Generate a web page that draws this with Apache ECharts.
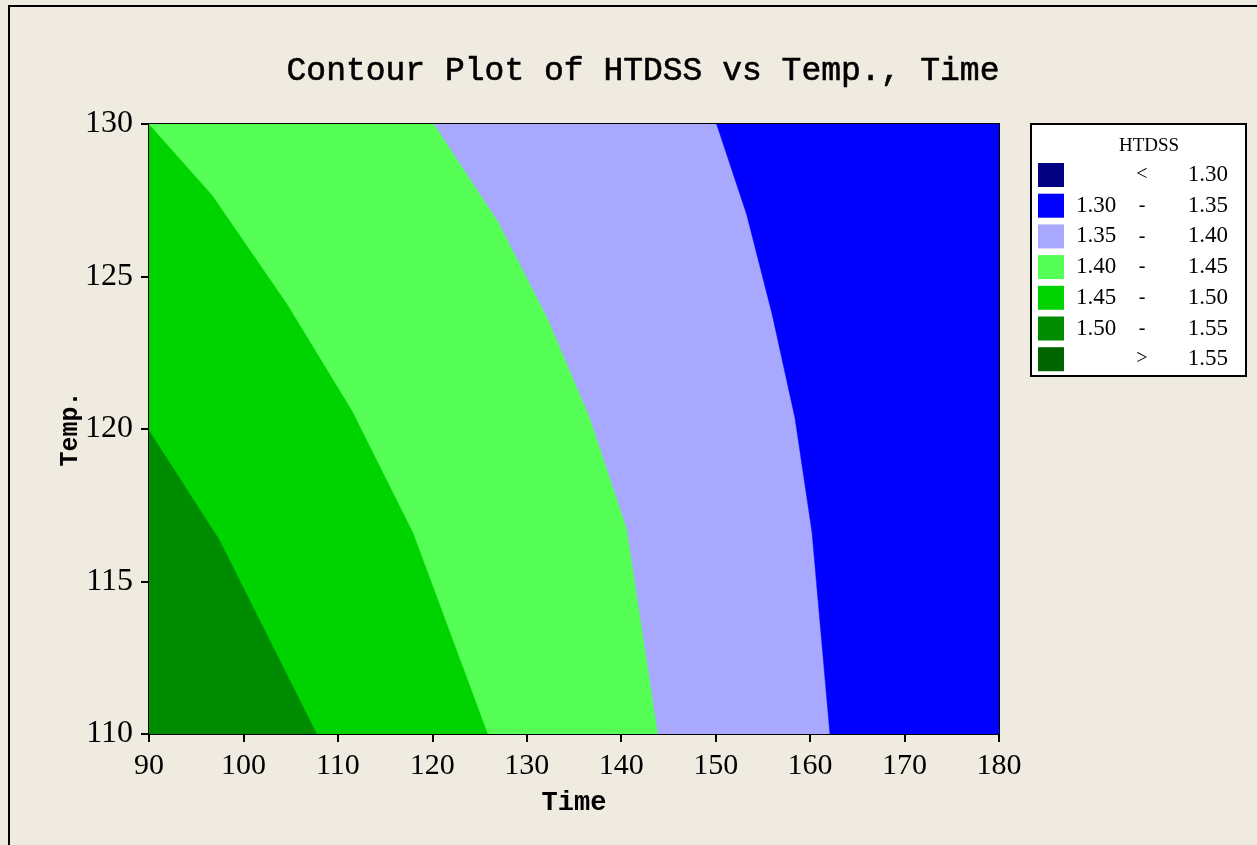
<!DOCTYPE html>
<html>
<head>
<meta charset="utf-8">
<script src="https://cdn.jsdelivr.net/npm/echarts@6/dist/echarts.min.js"></script>
<style>
html,body{margin:0;padding:0;background:#EFEBE1;}
#main{width:1257px;height:845px;}
</style>
</head>
<body>
<div id="main"></div>
<script>
// Contour boundaries: [Time, Temp] points from top to bottom
var boundary150_155 = [[90, 119.97], [97.5, 116.36], [107.8, 110]];
var boundary145_150 = [[90, 130], [96.7, 127.67], [104.7, 124.07], [111.6, 120.56], [118.0, 116.59], [125.9, 110]];
var boundary140_145 = [[120.2, 130], [127.0, 126.79], [132.2, 123.64], [136.7, 120.36], [140.6, 116.75], [143.9, 110]];
var boundary135_140 = [[150.1, 130], [153.3, 127.02], [156.0, 123.74], [158.4, 120.36], [160.2, 116.62], [162.1, 110]];

var regionColors = ['#008C00', '#00D400', '#55FF55', '#A8A8FF', '#0000FF'];
var regionBoundaries = [null, boundary150_155, boundary145_150, boundary140_145, boundary135_140];

var xTicks = [90, 100, 110, 120, 130, 140, 150, 160, 170, 180];
var yTicks = [110, 115, 120, 125, 130];

var legendTitle = 'HTDSS';
var legendColors = ['#000080', '#0000FF', '#A8A8FF', '#55FF55', '#00D400', '#008C00', '#006400'];
var legendLow = ['', '1.30', '1.35', '1.40', '1.45', '1.50', ''];
var legendSep = ['<', '-', '-', '-', '-', '-', '>'];
var legendHigh = ['1.30', '1.35', '1.40', '1.45', '1.50', '1.55', '1.55'];

var xMin = xTicks[0], xMax = xTicks[xTicks.length - 1];
var yMin = yTicks[0], yMax = yTicks[yTicks.length - 1];

var chart = echarts.init(document.getElementById('main'));

function regionPolygon(idx) {
  var b = regionBoundaries[idx];
  if (!b) return [[xMin, yMin], [xMin, yMax], [xMax, yMax], [xMax, yMin]];
  var pts = [[xMax, yMax], [b[0][0], yMax]];
  for (var i = 0; i < b.length; i++) pts.push(b[i]);
  pts.push([b[b.length - 1][0], yMin]);
  pts.push([xMax, yMin]);
  return pts;
}

var seriesData = regionColors.map(function (c, i) { return [i]; });

var graphics = [];
// outer frame
graphics.push({type: 'rect', shape: {x: 9, y: 6, width: 1300, height: 900}, style: {fill: null, stroke: '#000', lineWidth: 2}, z: 10});
// legend box
var lx = 1031, ly = 124, lw = 215, lh = 252;
graphics.push({type: 'rect', shape: {x: lx, y: ly, width: lw, height: lh}, style: {fill: '#fff', stroke: '#000', lineWidth: 2}, z: 10});
graphics.push({type: 'text', x: 1149, y: 146, style: {text: legendTitle, font: '19px "Liberation Serif"', fill: '#000', align: 'center', verticalAlign: 'middle'}, z: 11});
for (var i = 0; i < legendColors.length; i++) {
  var cy = 175 + i * 30.7;
  graphics.push({type: 'rect', shape: {x: 1038, y: cy - 12, width: 26, height: 24}, style: {fill: legendColors[i]}, z: 11});
  if (legendLow[i]) graphics.push({type: 'text', x: 1076, y: cy, style: {text: legendLow[i], font: '23px "Liberation Serif"', fill: '#000', align: 'left', verticalAlign: 'middle'}, z: 11});
  graphics.push({type: 'text', x: 1142, y: cy, style: {text: legendSep[i], font: '20px "Liberation Serif"', fill: '#000', align: 'center', verticalAlign: 'middle'}, z: 11});
  graphics.push({type: 'text', x: 1228, y: cy, style: {text: legendHigh[i], font: '23px "Liberation Serif"', fill: '#000', align: 'right', verticalAlign: 'middle'}, z: 11});
}

var option = {
  backgroundColor: '#EFEBE1',
  animation: false,
  title: {
    text: 'Contour Plot of HTDSS vs Temp., Time',
    left: 638, top: 50, textAlign: 'center',
    textStyle: {fontFamily: '"Liberation Mono"', fontSize: 33, fontWeight: 'normal', color: '#000', textBorderColor: '#000', textBorderWidth: 0.6}
  },
  grid: {left: 149, right: 258, top: 124, bottom: 111, show: true, borderColor: '#000', borderWidth: 2, backgroundColor: 'transparent'},
  xAxis: {
    type: 'value', min: xMin, max: xMax, interval: 10,
    name: 'Time', nameLocation: 'middle', nameGap: 56,
    nameTextStyle: {fontFamily: '"Liberation Mono"', fontSize: 27, fontWeight: 'bold', color: '#000'},
    axisLine: {show: true, lineStyle: {color: '#000', width: 2}},
    axisTick: {show: true, length: 8, lineStyle: {color: '#000', width: 2}},
    axisLabel: {fontFamily: '"Liberation Serif"', fontSize: 30, color: '#000', margin: 17},
    splitLine: {show: false}
  },
  yAxis: {
    type: 'value', min: yMin, max: yMax, interval: 5,
    name: 'Temp.', nameLocation: 'middle', nameGap: 66, nameRotate: 90,
    nameMoveOverlap: false,
    nameTextStyle: {fontFamily: '"Liberation Mono"', fontSize: 25, fontWeight: 'bold', color: '#000'},
    axisLine: {show: true, lineStyle: {color: '#000', width: 2}},
    axisTick: {show: true, length: 8, lineStyle: {color: '#000', width: 2}},
    axisLabel: {fontFamily: '"Liberation Serif"', fontSize: 32, color: '#000', margin: 16},
    splitLine: {show: false}
  },
  series: [{
    type: 'custom',
    clip: true,
    data: seriesData,
    renderItem: function (params, api) {
      var idx = api.value(0);
      var pts = regionPolygon(idx).map(function (p) { return api.coord(p); });
      return {type: 'polygon', shape: {points: pts}, style: {fill: regionColors[idx], stroke: regionColors[idx], lineWidth: 0.5}};
    },
    z: 1
  }],
  graphic: graphics
};
chart.setOption(option);
</script>
</body>
</html>
